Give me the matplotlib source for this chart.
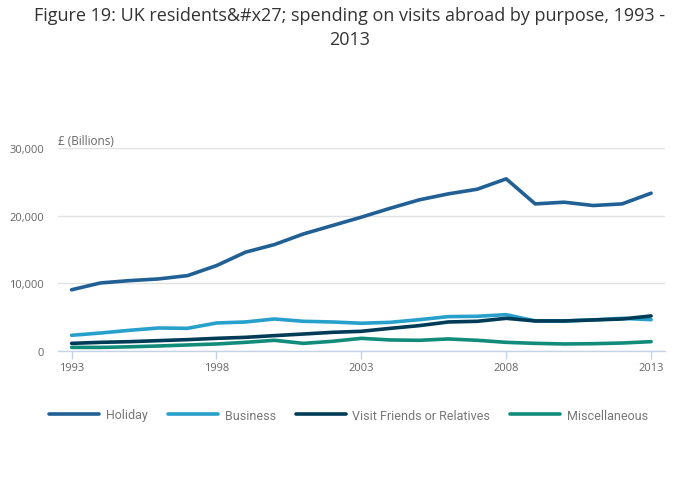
import matplotlib.pyplot as plt

years = list(range(1993, 2014))

holiday = [9050, 10060, 10400, 10650, 11140, 12620, 14600, 15730, 17300, 18540, 19780,
           21100, 22340, 23220, 23910, 25440, 21740, 21990, 21500, 21740, 23320]
business = [2320, 2660, 3060, 3400, 3350, 4140, 4290, 4730, 4390, 4290, 4100,
            4240, 4630, 5080, 5130, 5370, 4440, 4440, 4590, 4830, 4630]
friends = [1130, 1280, 1380, 1530, 1680, 1870, 2020, 2270, 2510, 2760, 2910,
           3350, 3750, 4290, 4390, 4830, 4440, 4440, 4590, 4730, 5180]
misc = [540, 530, 620, 740, 890, 1040, 1280, 1580, 1130, 1430, 1870,
        1630, 1580, 1780, 1580, 1280, 1130, 1040, 1080, 1180, 1380]

series = [("Holiday", holiday, "#206095"),
          ("Business", business, "#27a0cc"),
          ("Visit Friends or Relatives", friends, "#003c57"),
          ("Miscellaneous", misc, "#118c7b")]

x_ticks = [1993, 1998, 2003, 2008, 2013]
y_ticks = [0, 10000, 20000, 30000]

plt.rcParams['font.family'] = ['Open Sans', 'DejaVu Sans']

fig = plt.figure(figsize=(7, 5.02), dpi=100, facecolor='white')
ax = fig.add_axes([58 / 700, 1 - 352 / 502, (665 - 58) / 700, (352 - 149) / 502])

for name, values, colour in series:
    ax.plot(years, values, color=colour, lw=2.6, label=name, solid_capstyle="round",
            solid_joinstyle="round", zorder=3)

ax.set_xlim(1992.53, 2013.48)
ax.set_ylim(0, 30000)
ax.set_xticks(x_ticks)
ax.set_xticklabels([str(t) for t in x_ticks])
ax.set_yticks(y_ticks)
ax.set_yticklabels(["{:,}".format(t) for t in y_ticks])

ax.grid(axis='y', color='#e1e1e1', lw=1)
ax.set_axisbelow(True)
for side in ['top', 'right', 'left']:
    ax.spines[side].set_visible(False)
ax.spines['bottom'].set_color('#c5d3e8')
ax.spines['bottom'].set_linewidth(1)
ax.tick_params(axis='x', colors='#c5d3e8', length=6, width=1, labelcolor='#666666',
               labelsize=8, pad=2)
ax.tick_params(axis='y', length=0, labelcolor='#666666', labelsize=8, pad=10)

fig.text(58 / 700, 1 - 142 / 502, "£ (Billions)", fontsize=8.5, color='#666666',
         ha='left', va='center')

fig.suptitle("Figure 19: UK residents&#x27; spending on visits abroad by purpose, 1993 -\n2013",
             x=0.5, y=1 - 7 / 502, fontsize=13, color='#333333', va='top', linespacing=1.45)

fig.legend(loc='center left', bbox_to_anchor=(49 / 700, 1 - 416 / 502), ncol=4,
           frameon=False, prop={'family': 'Roboto', 'size': 9},
           handlelength=4.0, handletextpad=0.55,
           columnspacing=1.6, borderpad=0, borderaxespad=0, labelcolor='#777777')

fig.savefig("out.png", dpi=100, facecolor='white')
